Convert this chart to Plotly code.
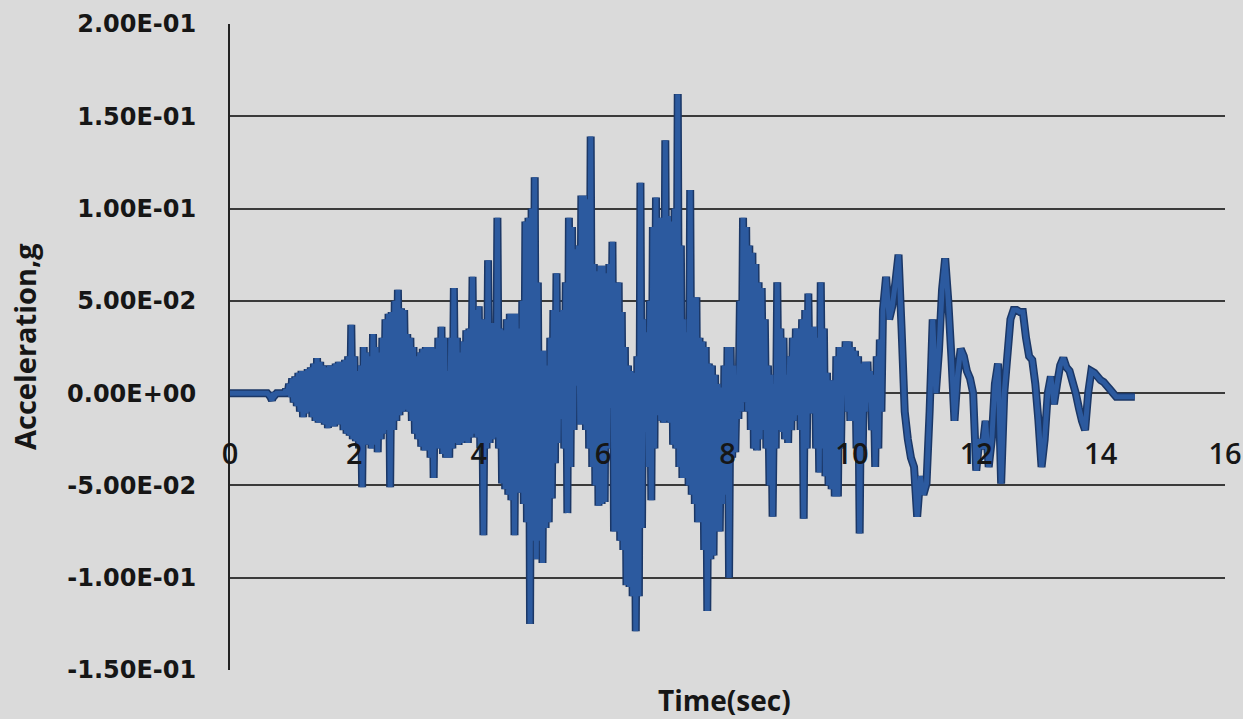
import plotly.graph_objects as go

# ---------------- data ----------------
# Dense part of the record (0 - 10.5 s): the trace swings between a local
# maximum at t = k*0.05 s and a local minimum at t = k*0.05 + 0.025 s.
dense_step = 0.05
peak_accel_0_to_5s = [
    0.000, 0.000, 0.000, 0.000, 0.000, 0.000, 0.000, 0.000, 0.000, 0.000,
    0.000, 0.000, 0.000, -0.002, 0.000, 0.000, 0.000, 0.000, 0.002, 0.005,
    0.008, 0.009, 0.011, 0.012, 0.012, 0.013, 0.014, 0.016, 0.019, 0.017,
    0.015, 0.014, 0.015, 0.015, 0.016, 0.017, 0.017, 0.018, 0.020, 0.037,
    0.020, 0.012, 0.015, 0.025, 0.022, 0.020, 0.032, 0.025, 0.022, 0.030,
    0.040, 0.043, 0.044, 0.050, 0.056, 0.046, 0.045, 0.032, 0.030, 0.025,
    0.020, 0.022, 0.024, 0.025, 0.025, 0.025, 0.024, 0.030, 0.036, 0.030,
    0.012, 0.030, 0.057, 0.030, 0.022, 0.028, 0.034, 0.035, 0.063, 0.045,
    0.047, 0.040, 0.040, 0.072, 0.038, 0.038, 0.095, 0.035, 0.034, 0.040,
    0.043, 0.043, 0.043, 0.035, 0.050, 0.093, 0.095, 0.100, 0.117, 0.060,
]
trough_accel_0_to_5s = [
    0.000, 0.000, 0.000, 0.000, 0.000, 0.000, 0.000, 0.000, 0.000, 0.000,
    0.000, 0.000, -0.001, -0.004, -0.001, 0.000, 0.000, 0.000, -0.001, -0.002,
    -0.005, -0.007, -0.010, -0.013, -0.011, -0.010, -0.013, -0.015, -0.016, -0.016,
    -0.017, -0.019, -0.018, -0.018, -0.017, -0.017, -0.020, -0.022, -0.023, -0.025,
    -0.026, -0.030, -0.051, -0.028, -0.028, -0.030, -0.028, -0.032, -0.025, -0.022,
    -0.020, -0.051, -0.020, -0.015, -0.012, -0.010, -0.009, -0.010, -0.015, -0.022,
    -0.025, -0.029, -0.031, -0.031, -0.035, -0.046, -0.030, -0.030, -0.033, -0.035,
    -0.035, -0.030, -0.027, -0.028, -0.027, -0.026, -0.027, -0.024, -0.022, -0.024,
    -0.030, -0.077, -0.030, -0.027, -0.025, -0.024, -0.030, -0.049, -0.052, -0.055,
    -0.058, -0.077, -0.054, -0.054, -0.060, -0.070, -0.125, -0.080, -0.090, -0.080,
]
peak_accel_5_to_10_5s = [
    0.023, 0.023, 0.015, 0.030, 0.045, 0.065, 0.044, 0.045, 0.060, 0.095,
    0.090, 0.078, 0.080, 0.107, 0.107, 0.105, 0.139, 0.070, 0.066, 0.069,
    0.069, 0.065, 0.070, 0.082, 0.060, 0.060, 0.044, 0.025, 0.015, 0.012,
    0.011, 0.020, 0.114, 0.040, 0.033, 0.050, 0.090, 0.106, 0.095, 0.095,
    0.137, 0.096, 0.093, 0.100, 0.162, 0.080, 0.040, 0.033, 0.110, 0.052,
    0.052, 0.030, 0.028, 0.025, 0.016, 0.015, 0.010, 0.005, 0.003, 0.015,
    0.025, 0.025, 0.015, 0.010, 0.050, 0.095, 0.090, 0.080, 0.076, 0.070,
    0.060, 0.057, 0.040, 0.015, 0.010, 0.005, 0.060, 0.035, 0.030, 0.010,
    0.020, 0.030, 0.035, 0.035, 0.040, 0.045, 0.054, 0.036, 0.036, 0.030,
    0.060, 0.035, 0.011, 0.007, 0.007, 0.020, 0.025, 0.025, 0.028, 0.028,
    0.025, 0.023, 0.020, 0.016, 0.017, 0.017, 0.012, 0.010, 0.020, 0.029,
]
trough_accel_5_to_10_5s = [
    -0.092, -0.073, -0.070, -0.057, -0.038, -0.027, -0.014, -0.030, -0.065, -0.040,
    -0.020, 0.004, -0.017, -0.017, -0.020, -0.030, -0.040, -0.050, -0.061, -0.060,
    -0.059, -0.030, -0.008, -0.075, -0.075, -0.080, -0.085, -0.104, -0.105, -0.110,
    -0.129, -0.110, -0.073, -0.021, -0.040, -0.058, -0.030, -0.012, -0.015, -0.016,
    -0.015, -0.016, -0.028, -0.030, -0.040, -0.046, -0.046, -0.050, -0.055, -0.060,
    -0.070, -0.070, -0.085, -0.118, -0.090, -0.088, -0.075, -0.075, -0.060, -0.055,
    -0.100, -0.035, -0.032, -0.014, -0.010, -0.005, -0.010, -0.020, -0.030, -0.031,
    -0.025, -0.020, -0.030, -0.050, -0.067, -0.030, -0.020, -0.021, -0.025, -0.027,
    -0.020, -0.015, -0.012, -0.020, -0.068, -0.030, -0.011, -0.011, -0.030, -0.043,
    -0.030, -0.045, -0.050, -0.052, -0.056, -0.056, -0.030, 0.000, -0.010, -0.015,
    -0.015, -0.030, -0.076, -0.030, -0.010, -0.005, -0.020, -0.040, -0.030, -0.010,
]
# Calmer tail (10.5 s - end), one value every 0.05 s
tail_start = 10.5
tail_step = 0.05
tail_accel = [
    0.045, 0.063, 0.040, 0.047, 0.060, 0.075, 0.034, -0.010, -0.025, -0.035,
    -0.040, -0.067, -0.045, -0.055, -0.049, -0.010, 0.040, 0.000, 0.023, 0.056,
    0.073, 0.050, 0.020, -0.015, 0.010, 0.024, 0.020, 0.012, 0.008, 0.000,
    -0.042, -0.025, -0.030, -0.015, -0.040, -0.025, 0.005, 0.016, -0.049, 0.000,
    0.020, 0.040, 0.045, 0.045, 0.044, 0.044, 0.030, 0.020, 0.018, 0.005,
    -0.015, -0.040, -0.025, 0.000, 0.009, -0.006, 0.005, 0.015, 0.019, 0.014,
    0.012, 0.006, 0.000, -0.008, -0.015, -0.020, 0.000, 0.012, 0.011, 0.009,
    0.007, 0.006, 0.004, 0.002, 0.000, -0.002, -0.002, -0.002, -0.002, -0.002,
    -0.002, -0.002,
]

y_tick_values = [-0.15, -0.10, -0.05, 0.0, 0.05, 0.10, 0.15, 0.20]
y_tick_labels = ["-1.50E-01", "-1.00E-01", "-5.00E-02", "0.00E+00",
                 "5.00E-02", "1.00E-01", "1.50E-01", "2.00E-01"]
x_tick_values = [0, 2, 4, 6, 8, 10, 12, 14, 16]
x_tick_labels = ["0", "2", "4", "6", "8", "10", "12", "14", "16"]

# ---------------- assemble the series ----------------
peaks = peak_accel_0_to_5s + peak_accel_5_to_10_5s
troughs = trough_accel_0_to_5s + trough_accel_5_to_10_5s
time, accel = [], []
for k, (hi, lo) in enumerate(zip(peaks, troughs)):
    t0 = k * dense_step
    time += [round(t0, 3), round(t0 + dense_step / 2, 3)]
    accel += [hi, lo]
for j, a in enumerate(tail_accel):
    time.append(round(tail_start + j * tail_step, 3))
    accel.append(a)

BG = "#dadada"
TXT = "#161616"

fig = go.Figure()
fig.add_trace(go.Scatter(x=time, y=accel, mode="lines",
                         line=dict(color="#1b3766", width=8, simplify=False),
                         hoverinfo="skip"))
fig.add_trace(go.Scatter(x=time, y=accel, mode="lines",
                         line=dict(color="#2c5a9f", width=5, simplify=False)))

fig.update_layout(
    width=1243, height=719,
    paper_bgcolor=BG, plot_bgcolor=BG,
    margin=dict(l=230, r=18, t=24, b=49, autoexpand=False),
    showlegend=False,
    xaxis=dict(
        range=[0, 16], tickvals=x_tick_values, ticktext=x_tick_labels,
        showgrid=False, zeroline=False, showline=False, ticks="",
        anchor="free", position=0.366, automargin=False,
        tickfont=dict(family="Open Sans", size=29, color=TXT, weight=600),
    ),
    yaxis=dict(
        range=[-0.15, 0.2], tickvals=y_tick_values, ticktext=y_tick_labels,
        showgrid=True, gridcolor="#3a3a3a", gridwidth=2,
        zeroline=False, showline=True, linecolor="#222222", linewidth=2,
        ticks="", ticklabelstandoff=27, automargin=False,
        tickfont=dict(family="DejaVu Sans", size=24, color=TXT, weight="bold"),
    ),
    annotations=[
        dict(text="Time(sec)", xref="paper", yref="paper", x=0.4965, y=-0.046,
             xanchor="center", yanchor="middle", showarrow=False,
             font=dict(family="Open Sans", size=28, color=TXT, weight="bold")),
        dict(text="Acceleration,g", xref="paper", yref="paper", x=-0.207, y=0.5,
             xanchor="center", yanchor="middle", showarrow=False, textangle=-90,
             font=dict(family="Open Sans", size=29, color=TXT, weight="bold")),
    ],
)

fig.write_html("out.html", config={"displayModeBar": False},
               post_script="document.body.style.margin='0';document.body.style.background='#dadada';")
